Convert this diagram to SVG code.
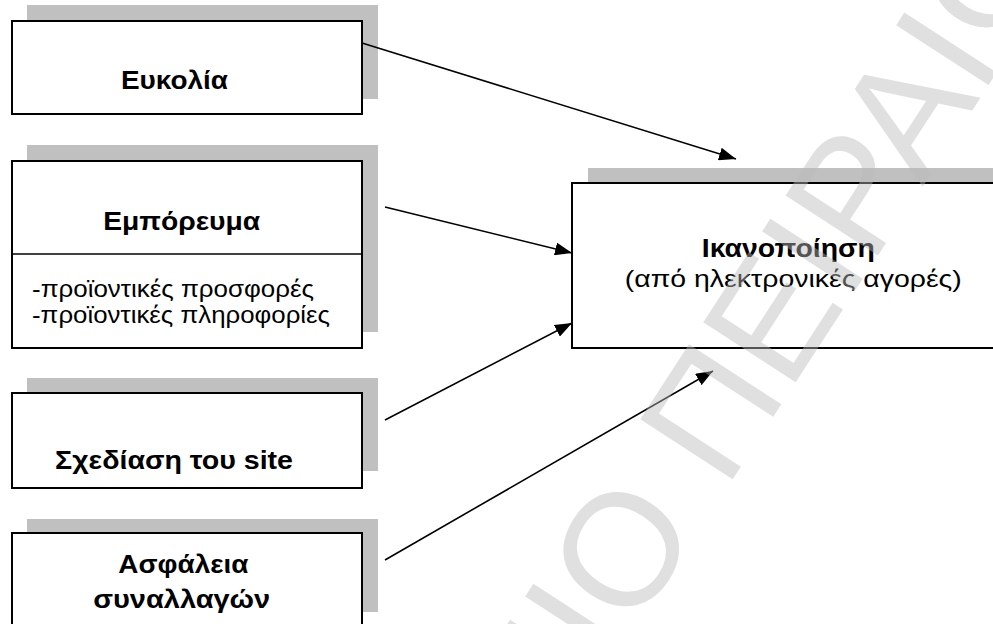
<svg xmlns="http://www.w3.org/2000/svg" width="993" height="624" viewBox="0 0 993 624">
<defs>
<style>
.shadow{fill:#c0c0c0;stroke:none}
.box{fill:#ffffff;stroke:#000000;stroke-width:2}
.div{stroke:#000000;stroke-width:1.3}
.t{font-family:"Liberation Sans",Arial,sans-serif;fill:#000000}
.b{font-weight:bold;font-size:25px;text-anchor:middle}
.r{font-size:23px}
.rc{font-size:24px;text-anchor:middle}
.conn{stroke:#000000;stroke-width:1.6;fill:none;marker-end:url(#ah)}
.wm{font-family:"Liberation Sans",Arial,sans-serif;font-size:160px;fill:#bbbbbb;fill-opacity:0.45}
</style>
<marker id="ah" markerUnits="userSpaceOnUse" markerWidth="18" markerHeight="13" refX="17" refY="6.5" orient="auto">
<path d="M0,0 L17,6.5 L0,13 z" fill="#000000"/>
</marker>
</defs>
<rect width="993" height="624" fill="#ffffff"/>
<g id="node-eukolia">
<rect class="shadow" x="27" y="5" width="351" height="94"/>
<rect class="box" x="12" y="21" width="350" height="93"/>
<text class="t b" x="174.5" y="89" textLength="107" lengthAdjust="spacingAndGlyphs">Ευκολία</text>
</g>
<g id="node-emporeuma">
<rect class="shadow" x="27" y="145" width="351" height="187"/>
<rect class="box" x="12" y="161" width="350" height="187"/>
<line class="div" x1="12" y1="254" x2="362" y2="254"/>
<text class="t b" x="181.7" y="230" textLength="157" lengthAdjust="spacingAndGlyphs">Εμπόρευμα</text>
<text class="t r" x="32" y="297" textLength="282" lengthAdjust="spacingAndGlyphs">-προϊοντικές προσφορές</text>
<text class="t r" x="32" y="323" textLength="298" lengthAdjust="spacingAndGlyphs">-προϊοντικές πληροφορίες</text>
</g>
<g id="node-sxediasi">
<rect class="shadow" x="27" y="378" width="351" height="93"/>
<rect class="box" x="12" y="393" width="350" height="95"/>
<text class="t b" x="174" y="469" textLength="238" lengthAdjust="spacingAndGlyphs">Σχεδίαση του site</text>
</g>
<g id="node-asfaleia">
<rect class="shadow" x="27" y="519" width="351" height="93"/>
<rect class="box" x="12" y="533" width="350" height="100"/>
<text class="t b" x="183.3" y="573" textLength="130" lengthAdjust="spacingAndGlyphs">Ασφάλεια</text>
<text class="t b" x="181.7" y="608" textLength="177" lengthAdjust="spacingAndGlyphs">συναλλαγών</text>
</g>
<g id="node-ikanopoiisi">
<rect class="shadow" x="588" y="168" width="420" height="165"/>
<rect class="box" x="572" y="183" width="436" height="165"/>
<text class="t b" x="788.3" y="257" textLength="173" lengthAdjust="spacingAndGlyphs">Ικανοποίηση</text>
<text class="t rc" x="793.3" y="287" textLength="337" lengthAdjust="spacingAndGlyphs">(από ηλεκτρονικές αγορές)</text>
</g>
<g id="connectors">
<line class="conn" x1="362" y1="43" x2="736" y2="159"/>
<line class="conn" x1="385" y1="207" x2="572" y2="253"/>
<line class="conn" x1="385" y1="420" x2="572" y2="323"/>
<line class="conn" x1="385" y1="560" x2="713" y2="371"/>
</g>
<g id="watermark" transform="translate(620,548) rotate(-57)">
<text class="wm" x="62" y="57" text-anchor="end">ΠΑΝΕΠΙΣΤΗΜΙΟ</text>
<text class="wm" x="106" y="57">ΠΕΙΡΑΙΩΣ</text>
</g>
</svg>
